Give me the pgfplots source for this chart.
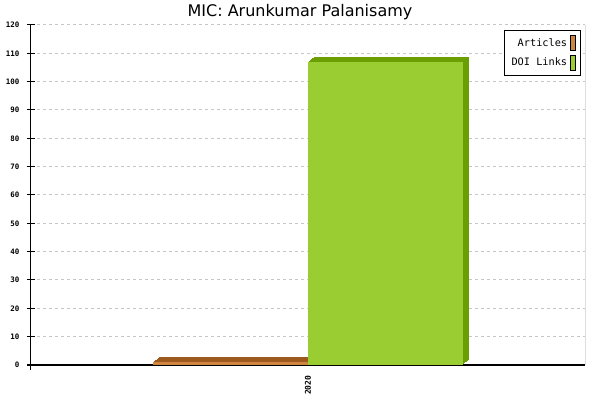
\documentclass[border=0pt]{standalone}
\usepackage{fontspec}
\setmainfont{DejaVu Sans}
\setmonofont{DejaVu Sans Mono}
\usepackage{pgfplots}
\usepackage{pgfplotstable}
\pgfplotsset{compat=1.18}

\definecolor{artfront}{HTML}{CD853F}
\definecolor{artside}{HTML}{9E5A1E}
\definecolor{doifront}{HTML}{9ACD32}
\definecolor{doiside}{HTML}{6B9E00}

% one category (2020) at x=0
\pgfplotstableread{
year articles doi
0    1        107
}\mictable

\begin{document}
\begin{tikzpicture}
\useasboundingbox (-23.25pt,-26.25pt) rectangle (426.75pt,273.75pt);
\begin{axis}[
  at={(0,0)}, anchor=south west,
  scale only axis, width=415.5pt, height=255pt,
  xmin=-0.5, xmax=0.5, ymin=0, ymax=120,
  ytick distance=10,
  xtick={0}, xticklabels={2020},
  axis x line*=bottom, axis y line*=left,
  axis line style={black, line width=0.75pt},
  y axis line style={shorten <=-3.75pt},
  tick align=center, major tick length=6pt,
  ytick style={black, line width=0.75pt},
  xtick style={draw=none},
  ymajorgrids,
  major grid style={gray!45, line width=0.75pt, dash pattern=on 2.25pt off 2.25pt},
  /pgf/number format/assume math mode=true,
  yticklabel style={font=\ttfamily\bfseries\fontsize{5.6}{6}\selectfont, inner sep=1pt, xshift=-4.5pt},
  xticklabel style={font=\ttfamily\bfseries\fontsize{6}{7}\selectfont, rotate=90, anchor=east, inner sep=1pt, xshift=-3.75pt},
  title={MIC: Arunkumar Palanisamy},
  title style={font=\fontsize{12}{14}\selectfont, at={(0.5,1)}, anchor=base, yshift=0pt, xshift=-6pt},
  legend plot pos=right,
  legend cell align=right,
  legend image code/.code={\draw[#1, draw=black, line width=0.75pt] (1.5pt,-5.6pt) rectangle (5.25pt,5.6pt);},
  legend style={at={(rel axis cs:1,1)}, anchor=north east, xshift=-3pt, yshift=-3.75pt,
    draw=black, line width=0.75pt, font=\ttfamily\fontsize{7.7}{9}\selectfont,
    inner sep=3.5pt, row sep=3pt},
]
% side faces: the same bar shifted step by step up and to the right
\pgfplotsinvokeforeach{6,5,4,3,2,1}{
  \addplot[ybar, bar width=0.28, bar shift=-0.14, fill=artside, draw=none, forget plot,
    xshift=#1*0.75pt, yshift=#1*0.625pt] table[x=year, y=articles]{\mictable};
}
\addplot[ybar, bar width=0.28, bar shift=-0.14, fill=artfront, draw=none]
  table[x=year, y=articles]{\mictable};
\addlegendentry{Articles}
\pgfplotsinvokeforeach{6,5,4,3,2,1}{
  \addplot[ybar, bar width=0.28, bar shift=0.14, fill=doiside, draw=none, forget plot,
    xshift=#1*0.75pt, yshift=#1*0.625pt] table[x=year, y=doi]{\mictable};
}
\addplot[ybar, bar width=0.28, bar shift=0.14, fill=doifront, draw=none]
  table[x=year, y=doi]{\mictable};
\addlegendentry{DOI Links}
\draw[black, line width=0.75pt] ([yshift=-3.75pt]rel axis cs:1,0) -- (rel axis cs:1,1);
\end{axis}
\end{tikzpicture}
\end{document}
